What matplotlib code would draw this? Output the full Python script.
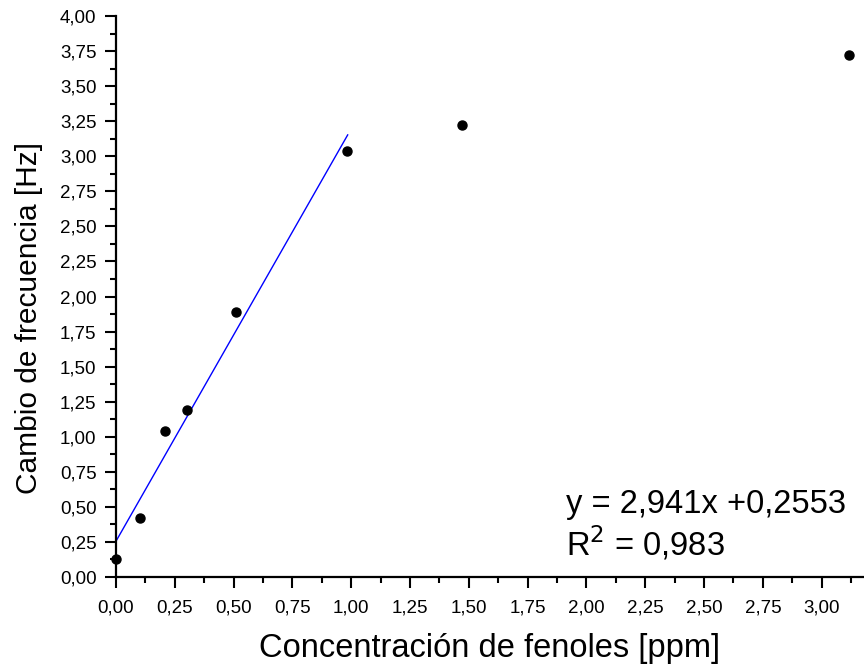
import matplotlib
matplotlib.use('Agg')
import matplotlib.pyplot as plt
import matplotlib.ticker as ticker
import numpy as np

plt.rcParams['font.family'] = 'Liberation Sans'

# Datos
conc = [0.0, 0.10, 0.21, 0.30, 0.51, 0.98, 1.47, 3.115]
freq = [0.13, 0.42, 1.04, 1.19, 1.89, 3.04, 3.22, 3.72]

# Ajuste lineal (primeros puntos)
slope = 2.941
intercept = 0.2553
fit_x = [0.0, 0.985]


def coma(x, pos):
    return f"{x:.2f}".replace('.', ',')


fig = plt.figure(figsize=(8.64, 6.65), dpi=100)
ax = fig.add_axes([116 / 864, 1 - 577 / 665, 1 - 116 / 864, (577 - 16) / 665])

fx = np.array(fit_x)
ax.plot(fx, slope * fx + intercept, color='#0000ff', linewidth=1.0, zorder=2)
ax.plot(conc, freq, 'o', color='black', markersize=6.5, zorder=3, clip_on=False)

ax.set_xlim(0, 3.18)
ax.set_ylim(0, 4.0)

ax.spines['top'].set_visible(False)
ax.spines['right'].set_visible(False)
ax.spines['left'].set_linewidth(1.6)
ax.spines['bottom'].set_linewidth(1.6)

ax.xaxis.set_major_locator(ticker.MultipleLocator(0.25))
ax.xaxis.set_minor_locator(ticker.MultipleLocator(0.125))
ax.yaxis.set_major_locator(ticker.MultipleLocator(0.25))
ax.yaxis.set_minor_locator(ticker.MultipleLocator(0.125))
ax.xaxis.set_major_formatter(ticker.FuncFormatter(coma))
ax.yaxis.set_major_formatter(ticker.FuncFormatter(coma))

ax.tick_params(which='major', direction='out', length=8, width=1.5, labelsize=13.5)
ax.tick_params(which='minor', direction='out', length=4.5, width=1.5)
ax.tick_params(axis='x', which='major', pad=8)
ax.tick_params(axis='y', which='major', pad=6)

ax.set_xlabel("Concentración de fenoles [ppm]", fontsize=23.5, labelpad=12)
ax.set_ylabel("Cambio de frecuencia [Hz]", fontsize=21.5)
ax.yaxis.set_label_coords(-0.098, 0.462)

ax.text(566 / 864, 1 - 505 / 665, "y = 2,941x +0,2553", transform=fig.transFigure,
        fontsize=23.5, va='center', ha='left')
ax.text(566 / 864, 1 - 543 / 665, r"R$^2$ = 0,983", transform=fig.transFigure,
        fontsize=23.5, va='center', ha='left')

fig.savefig('out.png', dpi=100)
